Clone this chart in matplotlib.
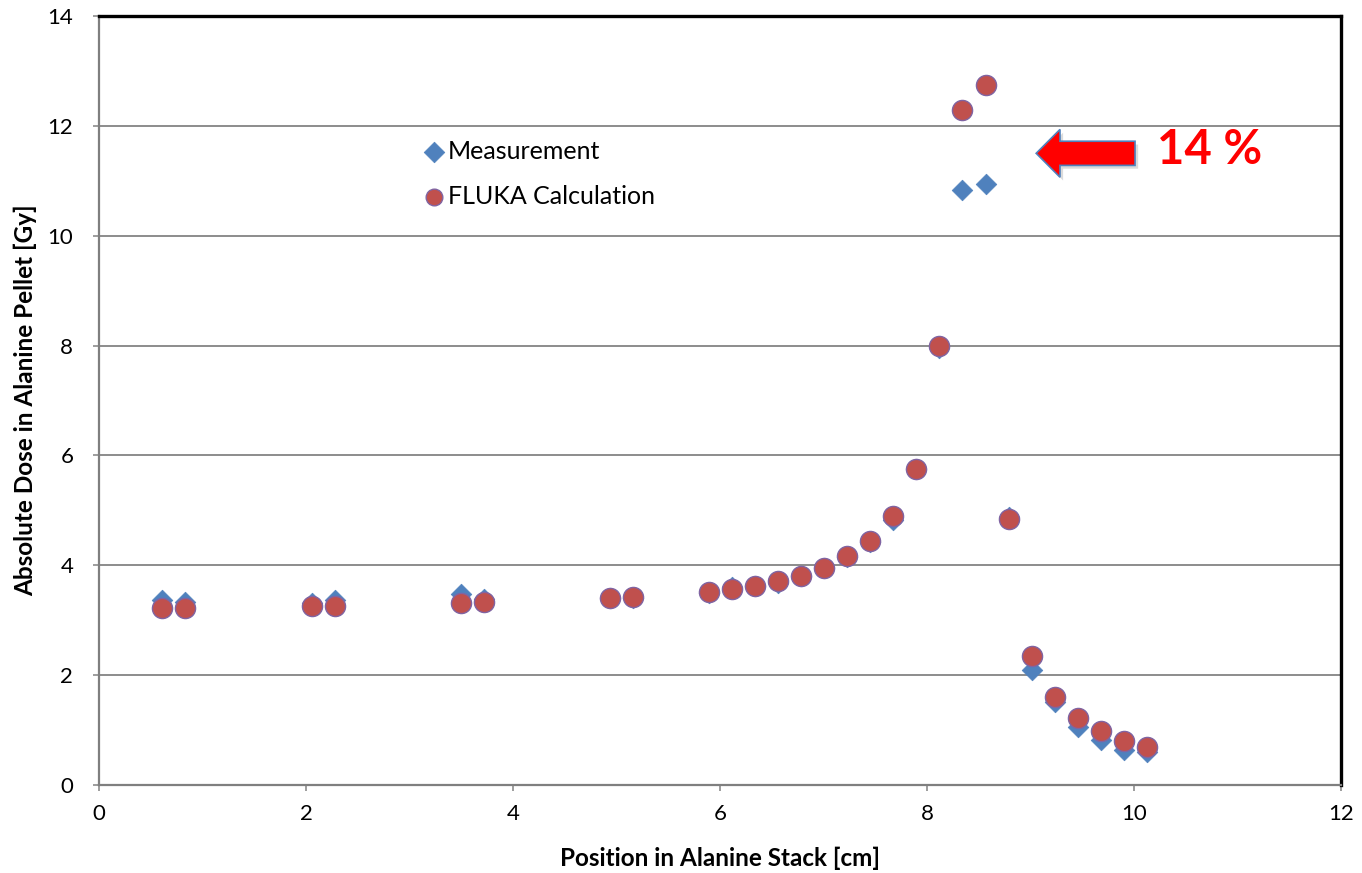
import matplotlib
matplotlib.use("Agg")
import matplotlib.pyplot as plt
from matplotlib.patches import FancyArrow

plt.rcParams['font.family'] = ['Lato', 'DejaVu Sans']

position_cm = [0.61, 0.83, 2.06, 2.28, 3.50, 3.72, 4.94, 5.16, 5.89, 6.12,
               6.34, 6.56, 6.78, 7.00, 7.23, 7.45, 7.67, 7.89, 8.12, 8.34,
               8.57, 8.79, 9.01, 9.24, 9.46, 9.68, 9.90, 10.13]
measurement_gy = [3.37, 3.33, 3.32, 3.36, 3.48, 3.39, 3.40, 3.40, 3.50, 3.60,
                  3.62, 3.67, 3.80, 3.95, 4.15, 4.43, 4.83, 5.75, 7.96, 10.84,
                  10.95, 4.88, 2.09, 1.52, 1.05, 0.82, 0.64, 0.60]
fluka_gy = [3.22, 3.22, 3.26, 3.26, 3.31, 3.34, 3.41, 3.42, 3.51, 3.57,
            3.63, 3.71, 3.81, 3.95, 4.16, 4.44, 4.90, 5.76, 8.00, 12.28,
            12.74, 4.85, 2.35, 1.60, 1.22, 0.98, 0.81, 0.70]

x_ticks = [0, 2, 4, 6, 8, 10, 12]
y_ticks = [0, 2, 4, 6, 8, 10, 12, 14]

fig = plt.figure(figsize=(13.62, 8.73), dpi=100)
ax = fig.add_axes([99/1362, 1-785/873, (1341-99)/1362, (785-16)/873])

ax.set_xlim(0, 12)
ax.set_ylim(0, 14)
ax.set_xticks(x_ticks)
ax.set_yticks(y_ticks)
ax.yaxis.grid(True, color='#8c8c8c', linewidth=1.4)
ax.set_axisbelow(True)

ax.scatter(position_cm, measurement_gy, marker='D', s=10.5**2, color='#4F81BD',
           edgecolor='#4F81BD', linewidths=0.5, label='Measurement', zorder=3)
ax.scatter(position_cm, fluka_gy, marker='o', s=14.5**2, color='#C0504D',
           edgecolor='#8064A2', linewidths=1.0, label='FLUKA Calculation', zorder=4)

for side in ['top', 'right']:
    ax.spines[side].set_color('black')
    ax.spines[side].set_linewidth(2.4)
for side in ['left', 'bottom']:
    ax.spines[side].set_color('#7f7f7f')
    ax.spines[side].set_linewidth(1.6)

ax.tick_params(axis='both', direction='out', length=4.5, width=1.2, color='#8c8c8c',
               labelsize=16, labelcolor='black')
ax.tick_params(axis='y', pad=14)
ax.tick_params(axis='x', pad=9)

ax.set_xlabel('Position in Alanine Stack [cm]', fontsize=17.5, fontweight='bold')
ax.set_ylabel('Absolute Dose in Alanine Pellet [Gy]', fontsize=17.5, fontweight='bold')
ax.xaxis.set_label_coords(0.5, -(858-785)/769, transform=ax.transAxes)
ax.yaxis.set_label_coords(-(99-25)/1242, 0.5, transform=ax.transAxes)
ax.xaxis.label.set_va('center')
ax.yaxis.label.set_va('center')

leg = ax.legend(loc='upper left', bbox_to_anchor=(0.251, 0.852), frameon=False,
                fontsize=18, handletextpad=0.0, labelspacing=0.87, borderaxespad=0,
                handlelength=1.1)
sizes = [10.5 ** 2, 12 ** 2]
for h, s in zip(leg.legend_handles, sizes):
    h.set_sizes([s])

# arrow annotation with soft shadow
ax.add_patch(FancyArrow(10.04, 11.44, -0.955, 0, width=0.44, head_width=0.87,
                        head_length=0.23, length_includes_head=True,
                        facecolor='#9a9a9a', edgecolor='none', alpha=0.35, zorder=5))
ax.add_patch(FancyArrow(10.01, 11.50, -0.955, 0, width=0.44, head_width=0.87,
                        head_length=0.23, length_includes_head=True,
                        facecolor='#FF0000', edgecolor='#4F81BD', linewidth=1.2, zorder=6))
ax.text(10.22, 11.56, '14 %', color='#FF0000', fontsize=34, fontweight='bold',
        ha='left', va='center', zorder=7)

fig.savefig('out.png', dpi=100)
